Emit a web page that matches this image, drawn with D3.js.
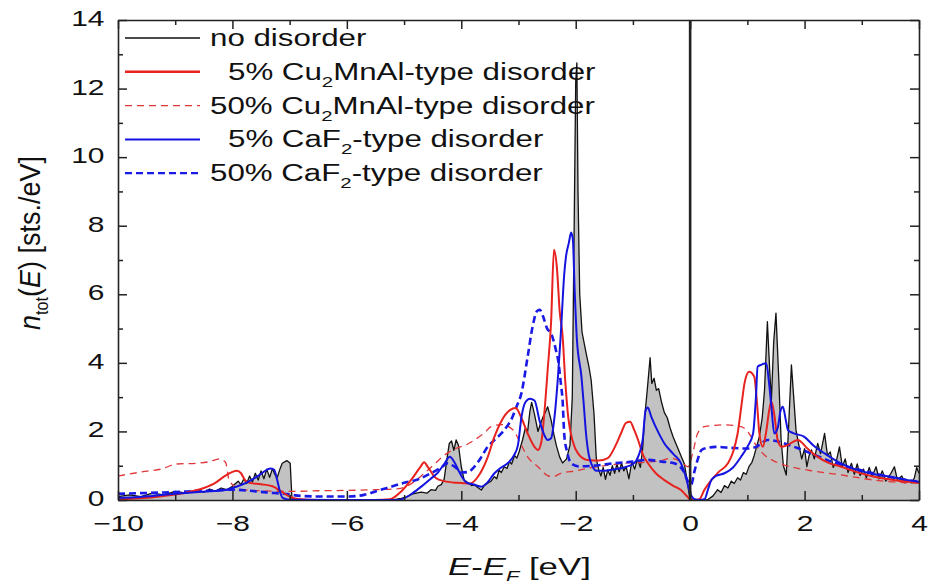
<!DOCTYPE html>
<html>
<head>
<meta charset="utf-8">
<script src="https://cdn.jsdelivr.net/npm/d3@7"></script>
<style>
  body { margin: 0; background: #fff; }
  svg text { font-family: "Liberation Sans", Arial, sans-serif; fill: #111; }
</style>
</head>
<body>
<div class="svg-container"></div>
<script>
//Series data [E - E_F (eV), n_tot (sts./eV)]

const noDisorder = [
  [-10,0.1],[-9.8,0.15],[-9.6,0.1],[-9.4,0.2],[-9.2,0.15],[-9.0,0.25],[-8.8,0.2],[-8.6,0.3],[-8.5,0.22],
  [-8.4,0.32],[-8.3,0.25],[-8.2,0.35],[-8.1,0.3],[-8.0,0.4],[-7.9,0.55],[-7.85,0.45],[-7.8,0.62],[-7.75,0.48],
  [-7.7,0.7],[-7.65,0.52],[-7.6,0.78],[-7.55,0.58],[-7.5,0.85],[-7.45,0.62],[-7.4,0.9],[-7.35,0.66],[-7.3,0.92],
  [-7.26,0.75],[-7.22,0.64],[-7.17,0.9],[-7.13,1.07],[-7.05,1.15],[-6.99,1.07],[-6.96,0.05],[-6.9,0],
  [-5.2,0],[-5.05,0.05],[-4.97,0.08],[-4.85,0.18],[-4.7,0.23],[-4.6,0.2],[-4.53,0.3],[-4.45,0.28],[-4.41,0.4],
  [-4.35,0.45],[-4.3,0.6],[-4.25,1.2],[-4.21,1.65],[-4.17,1.72],[-4.13,1.45],[-4.09,1.75],[-4.05,1.6],
  [-4.0,0.97],[-3.95,0.58],[-3.88,0.5],[-3.82,0.42],[-3.77,0.44],[-3.7,0.35],[-3.65,0.29],[-3.6,0.42],
  [-3.54,0.49],[-3.48,0.55],[-3.42,0.68],[-3.38,0.62],[-3.34,0.87],[-3.3,0.8],[-3.25,0.97],[-3.2,0.92],
  [-3.16,1.12],[-3.12,1.05],[-3.07,1.3],[-3.03,1.22],[-2.99,1.4],[-2.93,1.75],[-2.88,2.1],[-2.84,2.0],
  [-2.8,2.6],[-2.77,2.85],[-2.72,2.5],[-2.66,2.0],[-2.62,2.2],[-2.57,2.43],[-2.52,2.6],[-2.49,2.72],
  [-2.43,2.33],[-2.38,1.9],[-2.34,1.6],[-2.28,1.25],[-2.23,1.08],[-2.16,1.2],[-2.1,1.6],[-2.06,3.0],
  [-2.03,7.5],[-2.0,12.2],[-1.98,12.75],[-1.96,9.0],[-1.93,6.0],[-1.89,4.9],[-1.82,4.3],[-1.77,3.9],
  [-1.73,3.5],[-1.68,2.5],[-1.64,1.2],[-1.6,0.9],[-1.56,0.7],[-1.52,0.95],[-1.48,0.6],[-1.44,0.88],
  [-1.4,0.72],[-1.36,1.0],[-1.32,0.78],[-1.28,1.05],[-1.24,0.82],[-1.2,1.08],[-1.16,0.85],[-1.12,0.98],
  [-1.07,0.62],[-1.02,1.12],[-0.97,0.9],[-0.92,1.2],[-0.87,0.95],[-0.83,1.5],[-0.79,2.5],[-0.75,3.2],
  [-0.7,4.15],[-0.67,3.4],[-0.63,3.55],[-0.59,3.2],[-0.55,3.25],[-0.5,2.85],[-0.45,2.55],[-0.4,2.4],
  [-0.35,2.1],[-0.3,1.85],[-0.25,1.65],[-0.2,1.45],[-0.15,1.25],[-0.1,1.05],[-0.06,0.65],[-0.02,0.2],
  [0,0],[0.3,0],[0.4,0.12],[0.48,0.3],[0.54,0.22],[0.6,0.42],[0.66,0.35],[0.72,0.55],[0.77,0.48],
  [0.83,0.65],[0.88,0.58],[0.93,0.8],[0.98,0.75],[1.03,0.98],[1.08,1.1],[1.12,1.3],[1.16,1.55],
  [1.21,1.85],[1.26,2.4],[1.3,3.2],[1.35,5.2],[1.39,3.8],[1.42,2.9],[1.46,4.6],[1.5,5.45],[1.55,3.5],
  [1.59,1.75],[1.63,1.0],[1.68,0.73],[1.72,2.1],[1.77,3.94],[1.81,3.0],[1.85,2.04],[1.9,1.6],[1.95,1.2],
  [2.0,1.5],[2.04,0.97],[2.08,1.3],[2.12,1.46],[2.17,1.2],[2.23,1.65],[2.28,1.35],[2.35,1.94],[2.4,1.3],
  [2.45,1.4],[2.5,0.95],[2.55,1.1],[2.61,1.55],[2.66,0.97],[2.71,1.2],[2.76,0.8],[2.82,1.07],[2.87,0.75],
  [2.92,1.05],[2.97,0.72],[3.03,0.9],[3.08,0.65],[3.13,0.95],[3.18,0.68],[3.25,0.97],[3.3,0.62],
  [3.36,0.85],[3.42,0.55],[3.51,0.78],[3.57,0.97],[3.62,0.6],[3.7,0.7],[3.75,0.5],[3.8,0.58],[3.87,0.5],
  [3.92,0.65],[3.96,0.95],[4.0,0.78]
];

const cu2mnal5 = [
  [-10,0.02],[-9.6,0.05],[-9.2,0.12],[-8.8,0.22],[-8.5,0.35],[-8.3,0.5],[-8.15,0.68],[-8.0,0.82],
  [-7.92,0.85],[-7.85,0.78],[-7.78,0.58],[-7.7,0.5],[-7.5,0.46],[-7.3,0.4],[-7.15,0.25],[-7.0,0.1],
  [-6.85,0.03],[-6.5,0],[-5.5,0],[-5.25,0.02],[-5.05,0.25],[-4.88,0.58],[-4.72,0.95],[-4.65,1.1],
  [-4.58,0.95],[-4.45,0.65],[-4.3,0.55],[-4.06,0.5],[-3.85,0.48],[-3.7,0.7],[-3.55,1.2],[-3.42,1.85],
  [-3.3,2.3],[-3.15,2.62],[-3.05,2.68],[-2.95,2.4],[-2.84,1.94],[-2.72,1.55],[-2.66,1.46],[-2.6,1.7],
  [-2.55,2.5],[-2.49,3.8],[-2.43,5.2],[-2.38,7.3],[-2.33,6.8],[-2.28,5.5],[-2.23,4.8],[-2.18,3.4],
  [-2.13,2.4],[-2.05,1.7],[-1.96,1.36],[-1.8,1.17],[-1.6,1.15],[-1.44,1.22],[-1.3,1.6],[-1.21,1.94],
  [-1.12,2.25],[-1.05,2.28],[-0.98,2.05],[-0.91,1.75],[-0.82,1.3],[-0.74,1.08],[-0.6,0.78],[-0.45,0.58],
  [-0.3,0.42],[-0.16,0.29],[-0.05,0.1],[0,0.02],[0.08,0],[0.16,0.02],[0.25,0.3],[0.37,0.58],[0.5,0.82],
  [0.66,1.07],[0.75,1.4],[0.83,1.94],[0.9,2.8],[0.95,3.4],[1.03,3.74],[1.12,3.6],[1.17,2.8],[1.21,1.94],
  [1.27,1.55],[1.33,2.0],[1.38,2.6],[1.42,2.87],[1.47,2.5],[1.53,1.75],[1.6,1.55],[1.7,1.6],[1.88,1.75],
  [2.05,1.5],[2.23,1.26],[2.4,1.1],[2.64,0.97],[2.9,0.82],[3.22,0.68],[3.5,0.6],[3.81,0.53],[4.0,0.5]
];

const cu2mnal50 = [
  [-10,0.7],[-9.8,0.76],[-9.5,0.84],[-9.25,0.9],[-8.97,1.05],[-8.64,1.07],[-8.4,1.12],[-8.22,1.2],
  [-8.12,1.1],[-8.06,0.6],[-7.95,0.38],[-7.83,0.3],[-7.5,0.27],[-7.0,0.25],[-6.5,0.27],[-6.0,0.28],
  [-5.5,0.3],[-5.1,0.33],[-4.9,0.45],[-4.7,0.7],[-4.5,1.0],[-4.3,1.3],[-4.1,1.5],[-3.9,1.62],[-3.77,1.75],
  [-3.6,1.95],[-3.48,2.14],[-3.3,2.2],[-3.1,2.05],[-2.95,1.6],[-2.84,1.26],[-2.66,0.97],[-2.5,0.72],
  [-2.4,0.68],[-2.26,0.78],[-2.0,0.85],[-1.7,0.95],[-1.4,1.02],[-1.1,1.08],[-0.8,1.1],[-0.5,1.15],
  [-0.33,1.22],[-0.15,1.1],[-0.04,0.97],[0.05,1.4],[0.13,1.94],[0.25,2.14],[0.6,2.19],[0.89,2.14],
  [1.03,1.94],[1.15,1.6],[1.3,1.31],[1.45,1.15],[1.65,1.02],[2.06,0.87],[2.64,0.73],[3.22,0.58],
  [3.6,0.52],[4.0,0.49]
];

const caf5 = [
  [-10,0.06],[-9.7,0.08],[-9.4,0.12],[-9.0,0.18],[-8.53,0.24],[-8.12,0.29],[-7.95,0.38],[-7.77,0.49],
  [-7.6,0.65],[-7.5,0.76],[-7.4,0.88],[-7.33,0.92],[-7.27,0.88],[-7.22,0.6],[-7.17,0.25],[-7.12,0.06],
  [-7.0,0.01],[-6.0,0],[-5.1,0],[-5.0,0.05],[-4.85,0.2],[-4.7,0.39],[-4.55,0.6],[-4.41,0.8],[-4.3,1.05],
  [-4.2,1.26],[-4.12,1.1],[-4.03,0.8],[-3.9,0.5],[-3.78,0.45],[-3.65,0.39],[-3.55,0.5],[-3.42,0.78],
  [-3.3,0.95],[-3.19,1.07],[-3.08,1.3],[-3.01,1.6],[-2.95,2.4],[-2.88,2.85],[-2.8,2.95],[-2.72,2.9],
  [-2.63,2.3],[-2.55,1.9],[-2.49,1.75],[-2.43,1.8],[-2.37,2.43],[-2.31,3.6],[-2.26,4.86],[-2.2,6.6],
  [-2.17,7.1],[-2.12,7.5],[-2.08,7.8],[-2.05,7.6],[-2.02,6.2],[-1.98,4.7],[-1.9,3.6],[-1.86,2.8],
  [-1.82,1.94],[-1.77,1.3],[-1.73,1.07],[-1.63,0.85],[-1.5,0.85],[-1.32,0.9],[-1.15,0.95],[-0.98,1.07],
  [-0.9,1.3],[-0.83,1.75],[-0.78,2.6],[-0.74,2.7],[-0.68,2.43],[-0.55,1.95],[-0.45,1.65],[-0.3,1.35],
  [-0.16,1.07],[-0.08,0.7],[0,0.2],[0.08,0.02],[0.15,0],[0.25,0.02],[0.32,0.35],[0.37,0.58],[0.45,0.7],
  [0.6,0.78],[0.75,0.95],[0.89,1.26],[1.0,1.55],[1.1,1.94],[1.15,3.0],[1.18,3.89],[1.25,3.95],[1.33,3.99],
  [1.38,3.4],[1.42,2.72],[1.47,1.94],[1.53,2.1],[1.58,2.6],[1.62,2.72],[1.67,2.35],[1.71,2.04],[1.8,1.95],
  [1.99,1.85],[2.15,1.6],[2.35,1.36],[2.6,1.1],[2.93,0.87],[3.2,0.76],[3.51,0.68],[3.8,0.58],[4.0,0.53]
];

const caf50 = [
  [-10,0.18],[-9.6,0.2],[-9.2,0.22],[-8.8,0.25],[-8.4,0.27],[-8.0,0.3],[-7.7,0.27],[-7.4,0.22],[-7.1,0.18],
  [-6.8,0.12],[-6.4,0.1],[-6.0,0.1],[-5.7,0.15],[-5.5,0.25],[-5.3,0.35],[-5.0,0.5],[-4.76,0.6],[-4.53,0.78],
  [-4.35,0.95],[-4.24,1.07],[-4.1,0.95],[-4.0,0.8],[-3.88,0.82],[-3.77,0.97],[-3.65,1.25],[-3.54,1.55],
  [-3.42,1.75],[-3.3,1.94],[-3.2,2.15],[-3.13,2.33],[-3.04,2.7],[-2.95,3.11],[-2.84,4.18],[-2.76,5.0],
  [-2.68,5.5],[-2.63,5.55],[-2.57,5.35],[-2.5,5.0],[-2.43,4.86],[-2.35,4.4],[-2.3,4.0],[-2.26,3.4],
  [-2.23,2.92],[-2.2,1.9],[-2.15,1.4],[-2.08,1.07],[-1.95,0.98],[-1.7,1.0],[-1.33,1.07],[-1.0,1.12],
  [-0.74,1.17],[-0.5,1.12],[-0.28,1.07],[-0.12,0.85],[-0.04,0.55],[0.02,0.45],[0.07,0.8],[0.13,1.17],
  [0.2,1.46],[0.3,1.52],[0.45,1.55],[0.72,1.52],[1.0,1.5],[1.15,1.55],[1.24,1.65],[1.35,1.75],[1.5,1.72],
  [1.7,1.62],[1.9,1.5],[2.2,1.3],[2.5,1.1],[2.8,0.95],[3.2,0.78],[3.6,0.63],[4.0,0.53]
];

//tick values
const xMajorTicks = [-10, -8, -6, -4, -2, 0, 2, 4];
const xMinorTicks = [-9, -7, -5, -3, -1, 1, 3];
const yMajorTicks = [0, 2, 4, 6, 8, 10, 12, 14];
const yMinorTicks = [1, 3, 5, 7, 9, 11, 13];

//legend rows
const legendLabels = [
  {pre: 'no disorder', sub: '', post: '', dx: 0},
  {pre: '5% Cu', sub: '2', post: 'MnAl-type disorder', dx: 18},
  {pre: '50% Cu', sub: '2', post: 'MnAl-type disorder', dx: 0},
  {pre: '5% CaF', sub: '2', post: '-type disorder', dx: 18},
  {pre: '50% CaF', sub: '2', post: '-type disorder', dx: 0}
];

//the picture is stretched sideways, so is the text
const stretch = 1.36;

const margin = {top: 20, right: 9, bottom: 88, left: 118};
const width = 928 - margin.left - margin.right;
const height = 588 - margin.top - margin.bottom;

const xScale = d3.scaleLinear().domain([-10, 4]).range([0, width]);
const yScale = d3.scaleLinear().domain([0, 14]).range([height, 0]);

const svg = d3.select('.svg-container')
  .append('svg')
  .attr('width', 928)
  .attr('height', 588)
  .append('g')
  .attr('transform', `translate(${margin.left}, ${margin.top})`);

svg.append('clipPath').attr('id', 'plot-clip')
  .append('rect').attr('width', width).attr('height', height);

const plot = svg.append('g').attr('clip-path', 'url(#plot-clip)');

//grey area under the undisordered DOS
const area = d3.area()
  .x(d => xScale(d[0]))
  .y0(yScale(0))
  .y1(d => yScale(d[1]));

plot.append('path')
  .datum(noDisorder)
  .attr('d', area)
  .attr('fill', '#c2c2c2');

const jagged = d3.line().x(d => xScale(d[0])).y(d => yScale(d[1]));
const smooth = d3.line().x(d => xScale(d[0])).y(d => yScale(d[1])).curve(d3.curveMonotoneX);

const series = [
  {data: noDisorder, line: jagged, color: '#111', w: 1.3, dash: null},
  {data: cu2mnal50, line: smooth, color: '#e0363a', w: 1.3, dash: '7,5'},
  {data: caf50, line: smooth, color: '#1a1ae6', w: 2.6, dash: '7,4'},
  {data: cu2mnal5, line: smooth, color: '#e8221e', w: 2, dash: null},
  {data: caf5, line: smooth, color: '#1414e0', w: 2, dash: null}
];

plot.selectAll('.dos')
  .data(series)
  .enter()
  .append('path')
  .attr('class', 'dos')
  .attr('d', d => d.line(d.data))
  .attr('fill', 'none')
  .attr('stroke', d => d.color)
  .attr('stroke-width', d => d.w)
  .attr('stroke-dasharray', d => d.dash)
  .attr('stroke-linejoin', 'round');

//Fermi level
svg.append('line')
  .attr('x1', xScale(0)).attr('x2', xScale(0))
  .attr('y1', 0).attr('y2', height)
  .attr('stroke', '#222')
  .attr('stroke-width', 2.6);

//Axes, ticks pointing inward on all four sides
function styleAxis(g) {
  g.select('.domain').attr('stroke', '#222').attr('stroke-width', 1.6);
  g.selectAll('.tick line').attr('stroke', '#222').attr('stroke-width', 1.5);
  g.selectAll('.tick text').attr('font-size', 22).attr('fill', '#111')
    .attr('font-family', '"Liberation Sans", Arial, sans-serif');
}

svg.append('g')
  .attr('transform', `translate(0, ${height})`)
  .call(d3.axisBottom(xScale).tickValues(xMajorTicks).tickSizeInner(-9).tickSizeOuter(0).tickPadding(15))
  .call(styleAxis)
  .call(g => g.selectAll('.tick text').attr('transform', `scale(${stretch},1)`));

svg.append('g')
  .attr('transform', `translate(0, ${height})`)
  .call(d3.axisBottom(xScale).tickValues(xMinorTicks).tickSize(-5).tickFormat(''))
  .call(styleAxis)
  .call(g => g.select('.domain').remove());

svg.append('g')
  .call(d3.axisTop(xScale).tickValues(xMajorTicks).tickSizeInner(-9).tickSizeOuter(0).tickFormat(''))
  .call(styleAxis);

svg.append('g')
  .call(d3.axisTop(xScale).tickValues(xMinorTicks).tickSize(-5).tickFormat(''))
  .call(styleAxis)
  .call(g => g.select('.domain').remove());

svg.append('g')
  .call(d3.axisLeft(yScale).tickValues(yMajorTicks).tickSizeInner(-9).tickSizeOuter(0).tickPadding(10))
  .call(styleAxis)
  .call(g => g.selectAll('.tick text').attr('dy', '0.25em').attr('transform', `scale(${stretch},1)`));

svg.append('g')
  .call(d3.axisLeft(yScale).tickValues(yMinorTicks).tickSize(-5).tickFormat(''))
  .call(styleAxis)
  .call(g => g.select('.domain').remove());

svg.append('g')
  .attr('transform', `translate(${width}, 0)`)
  .call(d3.axisRight(yScale).tickValues(yMajorTicks).tickSizeInner(-9).tickSizeOuter(0).tickFormat(''))
  .call(styleAxis);

svg.append('g')
  .attr('transform', `translate(${width}, 0)`)
  .call(d3.axisRight(yScale).tickValues(yMinorTicks).tickSize(-5).tickFormat(''))
  .call(styleAxis)
  .call(g => g.select('.domain').remove());

//Legend
const legend = svg.append('g')
  .attr('class', 'legend')
  .attr('transform', `translate(${125 - margin.left}, ${38 - margin.top})`);

const rows = legend.selectAll('.row')
  .data(legendLabels)
  .enter()
  .append('g')
  .attr('class', 'row')
  .attr('transform', (d, i) => `translate(0, ${i * 33.8})`);

rows.append('line')
  .attr('x1', 0).attr('x2', 75)
  .attr('stroke', (d, i) => [series[0], series[3], series[1], series[4], series[2]][i].color)
  .attr('stroke-width', (d, i) => [1.3, 2.4, 1.3, 2, 2.2][i])
  .attr('stroke-dasharray', (d, i) => [null, null, '7,5', null, '7,4'][i]);

const legendText = rows.append('text')
  .attr('transform', d => `translate(${85 + d.dx}, 8) scale(${stretch},1)`)
  .attr('font-size', 23);

legendText.append('tspan').text(d => d.pre);
legendText.append('tspan').attr('font-size', 15).attr('dy', 7).text(d => d.sub);
legendText.append('tspan').attr('dy', d => d.sub ? -7 : 0).text(d => d.post);

//Axis titles
const xTitle = svg.append('text')
  .attr('transform', `translate(${448 - margin.left}, ${575 - margin.top}) scale(1.45,1)`)
  .attr('font-size', 24);
xTitle.append('tspan').attr('font-style', 'italic').text('E');
xTitle.append('tspan').text('-');
xTitle.append('tspan').attr('font-style', 'italic').text('E');
xTitle.append('tspan').attr('font-style', 'italic').attr('font-size', 15).attr('dy', 6).text('F');
xTitle.append('tspan').attr('dy', -6).text(' [eV]');

const yTitle = svg.append('text')
  .attr('transform', `translate(${40 - margin.left}, ${243 - margin.top}) scale(1.1,1) rotate(-90)`)
  .attr('text-anchor', 'middle')
  .attr('font-size', 27);
yTitle.append('tspan').attr('font-style', 'italic').text('n');
yTitle.append('tspan').attr('font-size', 16).attr('dy', 7).text('tot');
yTitle.append('tspan').attr('dy', -7).text('(');
yTitle.append('tspan').attr('font-style', 'italic').text('E');
yTitle.append('tspan').text(') [sts./eV]');
</script>
</body>
</html>
